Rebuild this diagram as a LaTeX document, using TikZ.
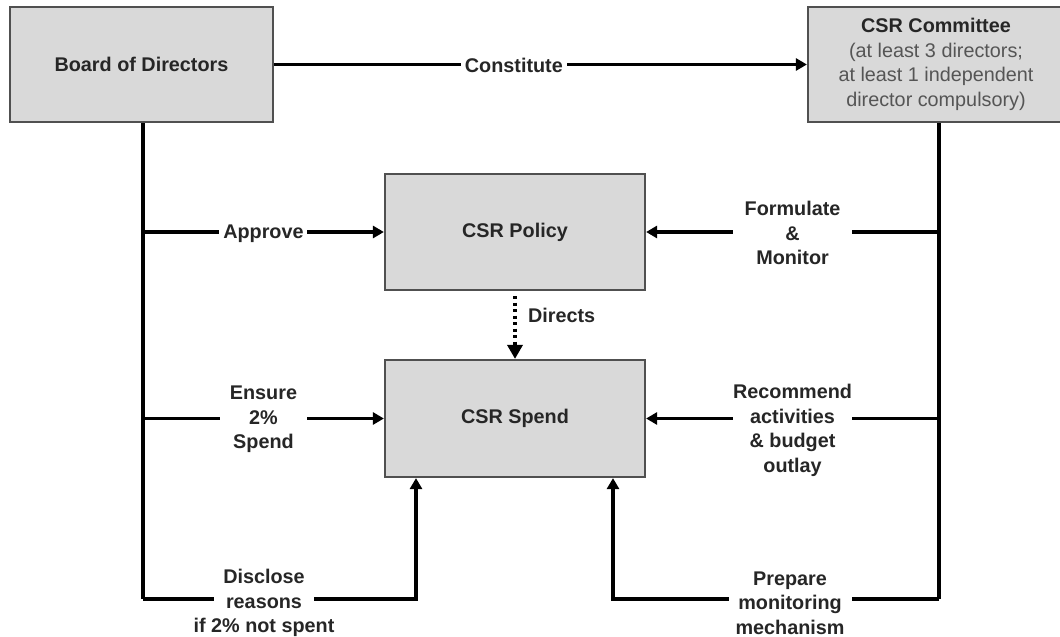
\documentclass[tikz,border=0pt]{standalone}
\usepackage{fontspec}
\setmainfont{Liberation Sans}
\usetikzlibrary{arrows.meta,positioning,calc}
\definecolor{boxfill}{RGB}{217,217,217}
\definecolor{boxline}{RGB}{80,80,80}
\definecolor{txt}{RGB}{38,38,38}
\definecolor{subtxt}{RGB}{85,85,85}
\begin{document}
\begin{tikzpicture}[x=1pt,y=-1pt,
  every node/.style={font=\fontsize{19.8}{24.5}\selectfont},
  box/.style={draw=boxline, line width=2.2pt, fill=boxfill, text=txt, align=center, inner sep=0pt},
  conn/.style={line width=3.4pt, black},
  arr/.style={conn, -{Triangle[length=11pt,width=12pt]}},
  dotarr/.style={line width=3.4pt, black, dash pattern=on 3pt off 3.5pt, -{Triangle[length=14pt,width=15pt]}},
  lbl/.style={fill=white, text=txt, align=center, inner xsep=0pt, inner ysep=1pt,
    font=\fontsize{19.8}{24.5}\selectfont\bfseries}
]
\useasboundingbox (0,0) rectangle (1060,637);

% boxes
\node[box, minimum width=263pt, minimum height=115pt] (board) at (141.5,64.5) {\bfseries Board of Directors};
\node[box, minimum width=256pt, minimum height=115pt] (committee) at (936,64.5)
  {{\bfseries CSR Committee}\\\color{subtxt}(at least 3 directors;\\\color{subtxt}at least 1 independent\\\color{subtxt}director compulsory)};
\node[box, minimum width=260pt, minimum height=116pt] (policy) at (515,232) {\bfseries CSR Policy};
\node[box, minimum width=260pt, minimum height=117pt] (spend) at (515,418.5) {\bfseries CSR Spend};

% helper coordinates
\coordinate (bl) at (143,599);
\coordinate (cr) at (939,599);
\coordinate (dsx) at (416,599);
\coordinate (psx) at (613,599);

% constitute
\draw[arr] (board.east) -- node[lbl, pos=0.45, minimum width=106pt, yshift=-1pt] {Constitute} (committee.west);

% board side
\draw[conn] (board.south -| bl) -- (bl);
\draw[arr] (bl |- policy) -- node[lbl, minimum width=88pt, yshift=-2pt] {Approve} (policy.west);
\draw[arr] (bl |- spend) -- node[lbl, minimum width=87pt, yshift=-1pt] {Ensure\\2\%\\Spend} (spend.west);
\node[text=txt, align=center, font=\fontsize{19.8}{24.5}\selectfont\bfseries] (tdis) at (264,603) {Disclose\\reasons\\if 2\% not spent};
\draw[conn] (bl) -- ([xshift=-50pt]tdis.center |- bl);
\draw[arr] ([xshift=50pt]tdis.center |- bl) -- (dsx) -- (spend.south -| dsx);

% committee side
\draw[conn] (committee.south -| cr) -- (cr);
\draw[arr] (cr |- policy) -- node[lbl, minimum width=119pt, yshift=-1pt] {Formulate\\\&\\Monitor} (policy.east);
\draw[arr] (cr |- spend) -- node[lbl, minimum width=119pt, yshift=-12pt] {Recommend\\activities\\\& budget\\outlay} (spend.east);
\draw[arr] (cr) -- node[lbl, pos=0.457, yshift=-4pt, minimum width=123pt] {Prepare\\monitoring\\mechanism} (psx) -- (spend.south -| psx);

% directs
\draw[dotarr, shorten <=5pt] (policy.south) -- node[anchor=west, pos=0.36, xshift=8pt, text=txt, font=\fontsize{19.8}{24.5}\selectfont\bfseries] {Directs} (spend.north);
\end{tikzpicture}
\end{document}
